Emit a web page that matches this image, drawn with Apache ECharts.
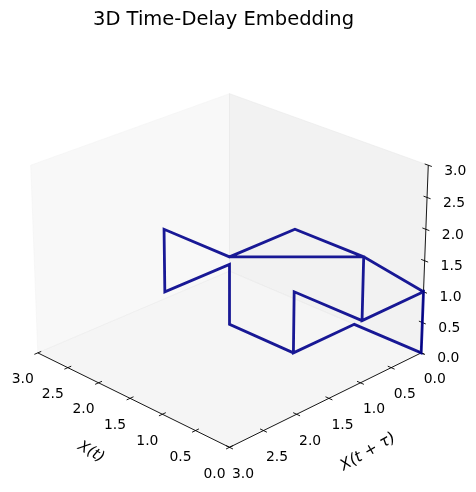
<!DOCTYPE html>
<html>
<head>
<meta charset="utf-8">
<style>html,body{margin:0;padding:0;background:#fff}#main{width:476px;height:492px}</style>
<script src="https://cdn.jsdelivr.net/npm/echarts@6/dist/echarts.min.js"></script>
</head>
<body>
<div id="main"></div>
<script>
// trajectory
var xT    = [1,0,0,0,0,1,1,1,0,0,0,1,1,2,2,2,2,1,1,0,0];
var xTau  = [2,1,1,0,0,0,1,1,1,0,0,0,1,1,1,2,2,2,1,1,0];
var xTau2 = [2,2,1,1,0,0,0,1,1,1,0,0,0,0,1,1,2,2,2,2,1];

var tickValues = [0,0.5,1,1.5,2,2.5,3];
var tickLabels = ['0.0','0.5','1.0','1.5','2.0','2.5','3.0'];
var axisMax = 3;

// view like a 3d axes: elev 25, azim 135, camera distance 10
var elev = 25*Math.PI/180, azim = 135*Math.PI/180, dist = 10;
var boxXY = 1.1429, boxZ = 0.8571;

function project(x,y,z){
    var dx = (x/axisMax-0.5)*boxXY, dy = (y/axisMax-0.5)*boxXY, dz = (z/axisMax-0.5)*boxZ;
    var ce = Math.cos(elev), se = Math.sin(elev), ca = Math.cos(azim), sa = Math.sin(azim);
    var depth = ce*ca*dx + ce*sa*dy + se*dz;
    var u = -sa*dx + ca*dy;
    var v = -se*ca*dx - se*sa*dy + ce*dz;
    return [u/(dist-depth), v/(dist-depth)];
}

var panes = [
    {pts:[[3,3,0],[3,0,0],[3,0,3],[3,3,3]], color:'rgba(242,242,242,0.5)'},
    {pts:[[3,0,0],[0,0,0],[0,0,3],[3,0,3]], color:'rgba(230,230,230,0.5)'},
    {pts:[[3,3,0],[0,3,0],[0,0,0],[3,0,0]], color:'rgba(236,236,236,0.5)'}
];
var axisLines = [
    [[3,3,0],[0,3,0]],
    [[0,3,0],[0,0,0]],
    [[0,0,0],[0,0,3]]
];
var tickLen = 0.05;

function toPx(api,p){ return api.coord(project(p[0],p[1],p[2])); }

function drawPane(params,api){
    var p = panes[params.dataIndex];
    return {type:'polygon',shape:{points:p.pts.map(function(q){return toPx(api,q)})},
        style:{fill:p.color,stroke:p.color,lineWidth:1}};
}
function drawAxis(params,api){
    var a = axisLines[params.dataIndex];
    return {type:'line',shape:{x1:toPx(api,a[0])[0],y1:toPx(api,a[0])[1],x2:toPx(api,a[1])[0],y2:toPx(api,a[1])[1]},
        style:{stroke:'#000',lineWidth:0.9}};
}
function tickGroup(api,i,from,to,center,offset){
    var a = toPx(api,from), b = toPx(api,to), c = toPx(api,center);
    return {type:'group',children:[
        {type:'line',shape:{x1:a[0],y1:a[1],x2:b[0],y2:b[1]},style:{stroke:'#000',lineWidth:0.9}},
        {type:'text',x:c[0]+offset[0],y:c[1]+offset[1],style:{text:tickLabels[i],fontSize:13.9,
            fontFamily:'DejaVu Sans',fill:'#000',align:'center',verticalAlign:'middle'}}
    ]};
}
function drawTicks(params,api){
    var i = params.dataIndex, t = tickValues[i], n = tickLen, axis = api.value(1);
    if(axis===0) return tickGroup(api,i,[t,3-n,0],[t,3+n,0],[t,3,0],[-15,27]);
    if(axis===1) return tickGroup(api,i,[-n,t,0],[n,t,0],[0,t,0],[13.5,27]);
    return tickGroup(api,i,[-n,0,t],[n,0,t],[0,0,t],[27,6]);
}
function tickSeries(axis){
    return {type:'custom',coordinateSystem:'cartesian2d',renderItem:drawTicks,silent:true,z:3,
        data:tickValues.map(function(t){return [t,axis]})};
}

var chart = echarts.init(document.getElementById('main'));
chart.setOption({
    animation:false,
    backgroundColor:'#fff',
    title:{text:'3D Time-Delay Embedding',left:88,top:5,
        textStyle:{fontFamily:'DejaVu Sans',fontSize:19.5,fontWeight:'normal',color:'#000'}},
    grid:{left:12.15,top:43.4,width:434.7,height:434.7},
    xAxis:{type:'value',min:-0.09,max:0.09,show:false},
    yAxis:{type:'value',min:-0.09,max:0.09,show:false},
    series:[
        {type:'custom',renderItem:drawPane,silent:true,z:1,data:panes.map(function(p,i){return [i]})},
        {type:'custom',renderItem:drawAxis,silent:true,z:2,data:axisLines.map(function(p,i){return [i]})},
        tickSeries(0),tickSeries(1),tickSeries(2),
        {type:'line',z:4,silent:true,showSymbol:false,smooth:false,
            lineStyle:{color:'#00008b',width:2.8,opacity:0.9,join:'miter'},
            data:xT.map(function(x,i){return project(x,xTau[i],xTau2[i])})}
    ],
    graphic:[
        {type:'text',x:91,y:452,rotation:-30*Math.PI/180,originX:0,originY:0,
            style:{text:'X(t)',fontSize:15,fontStyle:'italic',fontFamily:'DejaVu Sans',fill:'#000',align:'center',verticalAlign:'middle'}},
        {type:'text',x:368,y:452,rotation:30*Math.PI/180,originX:0,originY:0,
            style:{text:'X(t + τ)',fontSize:15.5,fontStyle:'italic',fontFamily:'DejaVu Sans',fill:'#000',align:'center',verticalAlign:'middle'}}
    ]
});
</script>
</body>
</html>
